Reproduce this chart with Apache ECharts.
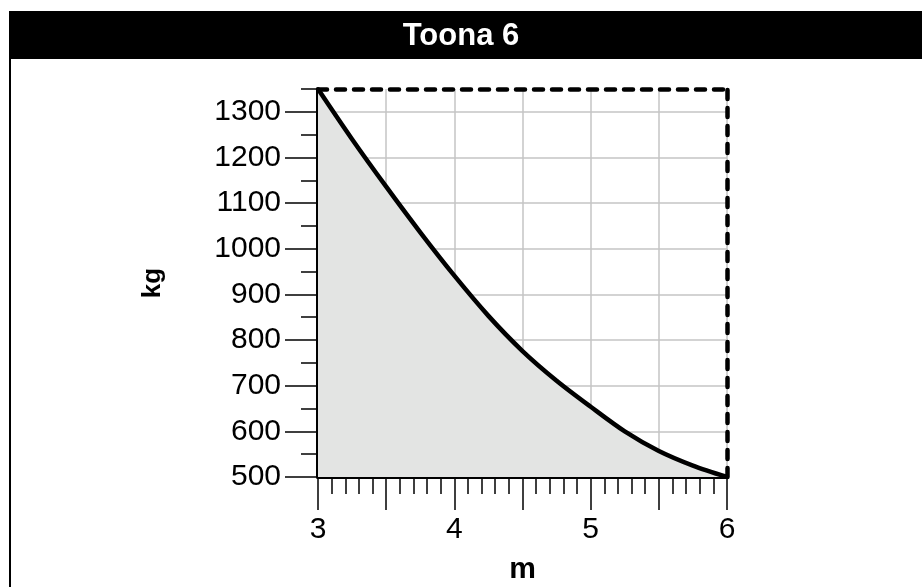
<!DOCTYPE html>
<html>
<head>
<meta charset="utf-8">
<script src="https://cdn.jsdelivr.net/npm/echarts@6/dist/echarts.min.js"></script>
<style>
html, body { margin: 0; padding: 0; background: #fff; }
#chart { width: 922px; height: 587px; }
</style>
</head>
<body>
<div id="chart"></div>
<script>
// load curve: reach (m) against load (kg)
const reach = [3, 3.25, 3.5, 3.75, 4, 4.25, 4.5, 4.75, 5, 5.25, 5.5, 5.75, 6];
const load = [1350, 1240, 1136, 1036, 941, 853, 776, 711, 654, 600, 557, 525, 500];

const xLabels = [3, 4, 5, 6];
const xMajorTicks = [3, 3.5, 4, 4.5, 5, 5.5, 6];
const xMinorTicks = [3.1, 3.2, 3.3, 3.4, 3.6, 3.7, 3.8, 3.9, 4.1, 4.2, 4.3, 4.4,
  4.6, 4.7, 4.8, 4.9, 5.1, 5.2, 5.3, 5.4, 5.6, 5.7, 5.8, 5.9];
const yLabels = [500, 600, 700, 800, 900, 1000, 1100, 1200, 1300];
const yMinorTicks = [550, 650, 750, 850, 950, 1050, 1150, 1250, 1350];

const font = 'Liberation Sans, Arial, sans-serif';
const gridColor = '#c4c4c4';

const chart = echarts.init(document.getElementById('chart'), null, { renderer: 'canvas' });

const hidden = { show: false };
const plain = (v) => String(v);

chart.setOption({
	animation: false,
	backgroundColor: '#fff',
	title: {
		text: 'Toona 6',
		left: 'center',
		top: 16,
		textStyle: { color: '#fff', fontSize: 31, fontWeight: 'bold', fontFamily: font }
	},
	graphic: [
		{ type: 'rect', z: -10, shape: { x: 10, y: 12, width: 1000, height: 700 },
			style: { fill: '#fff', stroke: '#000', lineWidth: 2 } },
		{ type: 'rect', z: -9, shape: { x: 10, y: 12, width: 1000, height: 47 },
			style: { fill: '#000' } }
	],
	grid: { left: 318, right: 195, top: 89, bottom: 110, outerBoundsMode: 'none', containLabel: false },
	xAxis: [
		{
			type: 'value', position: 'bottom', min: 3, max: 6, interval: 0.5,
			name: 'm', nameLocation: 'middle', nameGap: 78,
			nameTextStyle: { color: '#000', fontSize: 30, fontWeight: 'bold', fontFamily: font },
			axisLine: { onZero: false, lineStyle: { color: '#000', width: 4 } },
			axisTick: { customValues: xMajorTicks, length: 33, lineStyle: { color: '#000', width: 1.5 } },
			axisLabel: { customValues: xLabels, formatter: plain, margin: 38, color: '#000', fontSize: 30, fontFamily: font },
			splitLine: { show: true, lineStyle: { color: gridColor, width: 1.5 } }
		},
		{
			type: 'value', position: 'bottom', min: 3, max: 6,
			axisLine: hidden, axisLabel: hidden, splitLine: hidden,
			axisTick: { customValues: xMinorTicks, length: 17, lineStyle: { color: '#000', width: 1.5 } }
		},
		{
			type: 'value', position: 'top', min: 3, max: 6,
			axisTick: hidden, axisLabel: hidden, splitLine: hidden,
			axisLine: { onZero: false, lineStyle: { color: '#000', width: 4.5, type: [9, 9] } }
		}
	],
	yAxis: [
		{
			type: 'value', position: 'left', min: 500, max: 1350, interval: 100,
			name: 'kg', nameLocation: 'middle', nameGap: 152, nameRotate: 90,
			nameTextStyle: { color: '#000', fontSize: 26, fontWeight: 'bold', fontFamily: font },
			axisLine: { onZero: false, lineStyle: { color: '#000', width: 4 } },
			axisTick: { customValues: yLabels, length: 33, lineStyle: { color: '#000', width: 1.5 } },
			axisLabel: { customValues: yLabels, formatter: plain, margin: 37, color: '#000', fontSize: 30, fontFamily: font },
			splitLine: { show: true, lineStyle: { color: gridColor, width: 1.5 } }
		},
		{
			type: 'value', position: 'left', min: 500, max: 1350,
			axisLine: hidden, axisLabel: hidden, splitLine: hidden,
			axisTick: { customValues: yMinorTicks, length: 17, lineStyle: { color: '#000', width: 1.5 } }
		},
		{
			type: 'value', position: 'right', min: 500, max: 1350,
			axisTick: hidden, axisLabel: hidden, splitLine: hidden,
			axisLine: { onZero: false, lineStyle: { color: '#000', width: 4.5, type: [9, 9] } }
		}
	],
	series: [
		{
			type: 'line',
			xAxisIndex: 0,
			yAxisIndex: 0,
			data: reach.map((x, i) => [x, load[i]]),
			smooth: 0.3,
			symbol: 'none',
			lineStyle: { color: '#000', width: 4.5 },
			areaStyle: { color: '#e3e4e3', opacity: 1, origin: 'start' },
			z: 1
		}
	]
});
</script>
</body>
</html>
